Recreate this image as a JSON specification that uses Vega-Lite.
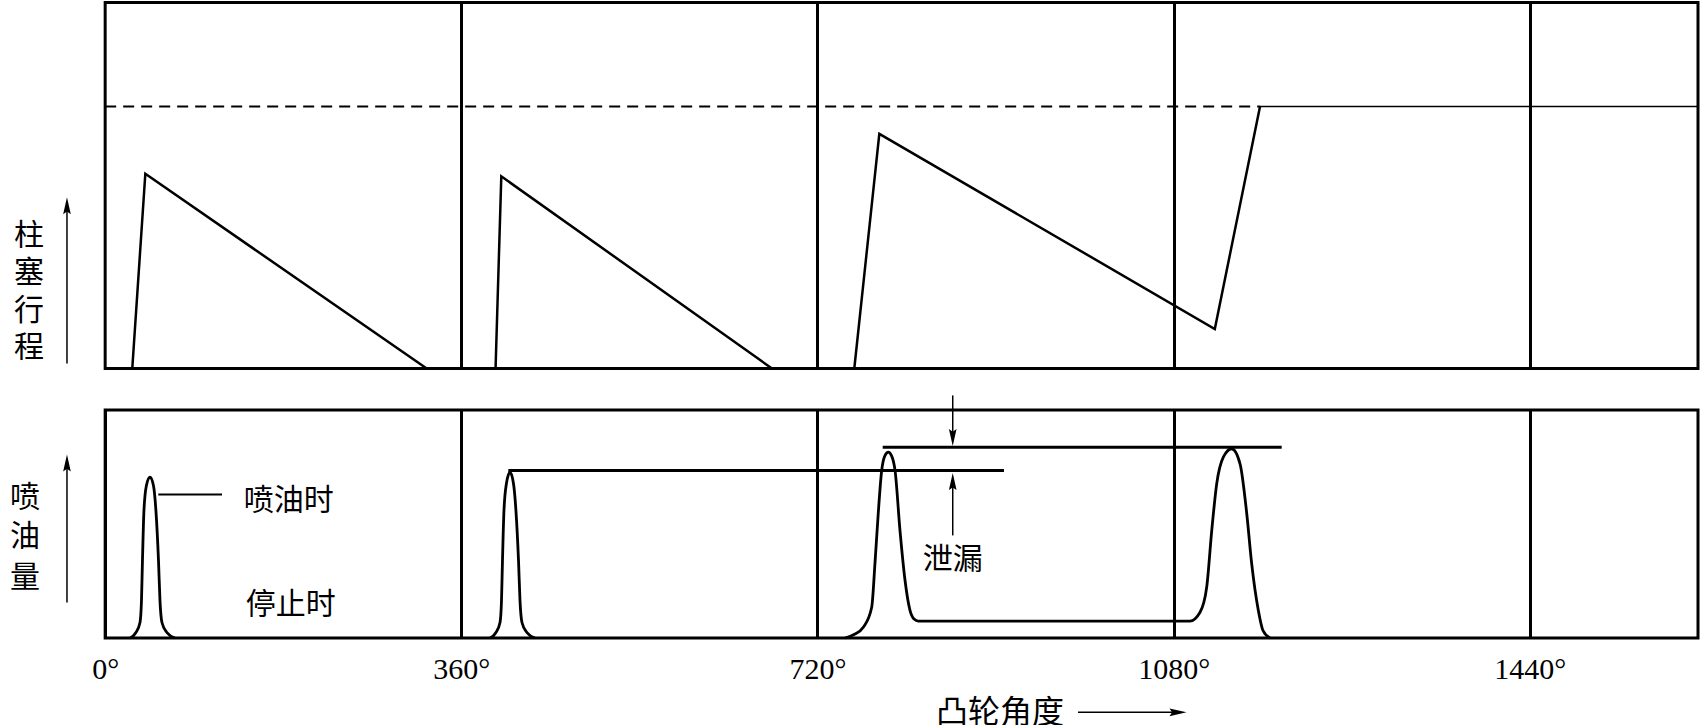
{
  "$schema": "https://vega.github.io/schema/vega-lite/v6.json",
  "background": "white",
  "padding": {"left": 0, "top": 0.5, "right": 0, "bottom": 0},
  "spacing": 41.5,
  "bounds": "flush",
  "config": {"view": {"stroke": null}, "font": "Noto Sans CJK SC"},
  "resolve": {"scale": {"x": "independent", "y": "independent"}},
  "datasets": {
    "frame": [{"deg": 0, "deg2": 1610, "v": 0, "v2": 100}],
    "topLines": [
      {"s": "t1", "deg": 27.4, "v": 0}, {"s": "t1", "deg": 40.6, "v": 53.2}, {"s": "t1", "deg": 325.0, "v": 0},
      {"s": "t2", "deg": 394.6, "v": 0}, {"s": "t2", "deg": 400.4, "v": 52.5}, {"s": "t2", "deg": 674.0, "v": 0},
      {"s": "t3", "deg": 757.2, "v": 0}, {"s": "t3", "deg": 782.5, "v": 64.1}, {"s": "t3", "deg": 1121.6, "v": 10.8}, {"s": "t3", "deg": 1167.3, "v": 71.6}
    ],
    "topSegs": [
      {"kind": "dashed", "deg": 0, "deg2": 1167.3, "v": 71.6, "v2": 71.6},
      {"kind": "solid", "deg": 1167.3, "deg2": 1610, "v": 71.6, "v2": 71.6},
      {"kind": "arrow", "deg": -38.6, "deg2": -38.6, "v": 1.4, "v2": 44.5}
    ],
    "topHeads": [{"dir": "up", "deg": -38.6, "v": 44.5}],
    "topText": [
      {"t": "柱", "deg": -77, "v": 36.3},
      {"t": "塞", "deg": -77, "v": 26.0},
      {"t": "行", "deg": -77, "v": 15.6},
      {"t": "程", "deg": -77, "v": 5.7}
    ],
    "flow": [
      {"s": "p1", "deg": 25.1, "v": 0}, {"s": "p1", "deg": 31.1, "v": 2.4}, {"s": "p1", "deg": 35.2, "v": 6.8}, {"s": "p1", "deg": 36.7, "v": 16.4}, {"s": "p1", "deg": 37.7, "v": 34}, {"s": "p1", "deg": 39.2, "v": 55.9}, {"s": "p1", "deg": 41.7, "v": 66.9}, {"s": "p1", "deg": 45.3, "v": 70.5}, {"s": "p1", "deg": 48.8, "v": 66.9}, {"s": "p1", "deg": 51.3, "v": 55.9}, {"s": "p1", "deg": 53.9, "v": 34}, {"s": "p1", "deg": 55.4, "v": 16.4}, {"s": "p1", "deg": 57.4, "v": 6.8}, {"s": "p1", "deg": 62.4, "v": 2.4}, {"s": "p1", "deg": 70.5, "v": 0},
      {"s": "p2", "deg": 389.0, "v": 0}, {"s": "p2", "deg": 395.0, "v": 2.4}, {"s": "p2", "deg": 399.1, "v": 6.8}, {"s": "p2", "deg": 400.6, "v": 16.4}, {"s": "p2", "deg": 401.6, "v": 34}, {"s": "p2", "deg": 403.1, "v": 55.9}, {"s": "p2", "deg": 405.6, "v": 67.8}, {"s": "p2", "deg": 409.2, "v": 72.7}, {"s": "p2", "deg": 412.7, "v": 67.8}, {"s": "p2", "deg": 415.2, "v": 55.9}, {"s": "p2", "deg": 417.8, "v": 34}, {"s": "p2", "deg": 419.3, "v": 16.4}, {"s": "p2", "deg": 421.3, "v": 6.8}, {"s": "p2", "deg": 426.3, "v": 2.4}, {"s": "p2", "deg": 434.4, "v": 0},
      {"s": "p3", "deg": 747.8, "v": 0}, {"s": "p3", "deg": 757.0, "v": 1.5}, {"s": "p3", "deg": 766.3, "v": 4.7}, {"s": "p3", "deg": 774.8, "v": 13.5}, {"s": "p3", "deg": 778.1, "v": 32.7}, {"s": "p3", "deg": 781.4, "v": 54.6}, {"s": "p3", "deg": 784.9, "v": 73.5}, {"s": "p3", "deg": 788.2, "v": 80}, {"s": "p3", "deg": 791.6, "v": 81.5}, {"s": "p3", "deg": 794.8, "v": 80}, {"s": "p3", "deg": 798.4, "v": 73.5}, {"s": "p3", "deg": 803.4, "v": 47.1}, {"s": "p3", "deg": 808.5, "v": 25.2}, {"s": "p3", "deg": 813.5, "v": 12.1}, {"s": "p3", "deg": 817.6, "v": 8.3}, {"s": "p3", "deg": 821.9, "v": 7.4},
      {"s": "p3", "deg": 1096.4, "v": 7.4}, {"s": "p3", "deg": 1106.7, "v": 11.3}, {"s": "p3", "deg": 1113.4, "v": 22.3}, {"s": "p3", "deg": 1118.5, "v": 47.1}, {"s": "p3", "deg": 1123.5, "v": 67.6}, {"s": "p3", "deg": 1130.2, "v": 79.3}, {"s": "p3", "deg": 1138.7, "v": 83}, {"s": "p3", "deg": 1147.1, "v": 76.4}, {"s": "p3", "deg": 1153.9, "v": 54.5}, {"s": "p3", "deg": 1158.9, "v": 32.5}, {"s": "p3", "deg": 1165.6, "v": 12.1}, {"s": "p3", "deg": 1170.3, "v": 3.3}, {"s": "p3", "deg": 1177.4, "v": 0}
    ],
    "bottomSegs": [
      {"kind": "leader", "deg": 53.7, "deg2": 118.1, "v": 62.9, "v2": 62.9},
      {"kind": "level", "deg": 407.5, "deg2": 908.5, "v": 73.5, "v2": 73.5},
      {"kind": "level", "deg": 785.9, "deg2": 1189.2, "v": 83.7, "v2": 83.7},
      {"kind": "arrow", "deg": 856.7, "deg2": 856.7, "v": 106.4, "v2": 87.9},
      {"kind": "arrow", "deg": 856.7, "deg2": 856.7, "v": 45, "v2": 68.6},
      {"kind": "arrow", "deg": -38.6, "deg2": -38.6, "v": 15.6, "v2": 76.8},
      {"kind": "arrow", "deg": 983.3, "deg2": 1084.4, "v": -32.6, "v2": -32.6}
    ],
    "bottomHeads": [
      {"dir": "down", "deg": 856.7, "v": 87.9},
      {"dir": "up", "deg": 856.7, "v": 68.6},
      {"dir": "up", "deg": -38.6, "v": 76.8},
      {"dir": "right", "deg": 1084.4, "v": -32.6}
    ],
    "bottomText": [
      {"t": "喷油时", "deg": 185.5, "v": 59.9},
      {"t": "停止时", "deg": 187.5, "v": 14.3},
      {"t": "泄漏", "deg": 856.7, "v": 34.2}
    ],
    "axisTitle": [{"t": "凸轮角度", "deg": 904.5, "v": -32.7}],
    "bottomSide": [
      {"t": "喷", "deg": -81, "v": 61.2},
      {"t": "油", "deg": -81, "v": 44.5},
      {"t": "量", "deg": -81, "v": 26.5}
    ]
  },
  "vconcat": [
    {
      "width": 1698,
      "height": 366,
      "layer": [
        {
          "data": {"name": "frame"},
          "mark": {"type": "rect", "fillOpacity": 0, "stroke": "black", "strokeWidth": 3},
          "encoding": {
            "x": {"field": "deg", "type": "quantitative", "scale": {"domain": [-106.3, 1610], "nice": false, "zero": false},
              "axis": {"values": [360, 720, 1080, 1440], "grid": true, "gridColor": "black", "gridWidth": 3, "gridOpacity": 1, "labels": false, "ticks": false, "domain": false, "title": null}},
            "x2": {"field": "deg2"},
            "y": {"field": "v", "type": "quantitative", "scale": {"domain": [0, 100], "nice": false, "zero": false}, "axis": null},
            "y2": {"field": "v2"}
          }
        },
        {
          "data": {"name": "topLines"},
          "mark": {"type": "line", "color": "black", "strokeWidth": 2.5},
          "encoding": {
            "x": {"field": "deg", "type": "quantitative"},
            "y": {"field": "v", "type": "quantitative"},
            "detail": {"field": "s"}
          }
        },
        {
          "data": {"name": "topSegs"},
          "transform": [{"filter": "datum.kind === 'dashed'"}],
          "mark": {"type": "rule", "color": "black", "strokeWidth": 2, "strokeDash": [11, 7]},
          "encoding": {"x": {"field": "deg", "type": "quantitative"}, "x2": {"field": "deg2"}, "y": {"field": "v", "type": "quantitative"}, "y2": {"field": "v2"}}
        },
        {
          "data": {"name": "topSegs"},
          "transform": [{"filter": "datum.kind === 'solid'"}],
          "mark": {"type": "rule", "color": "black", "strokeWidth": 1.5},
          "encoding": {"x": {"field": "deg", "type": "quantitative"}, "x2": {"field": "deg2"}, "y": {"field": "v", "type": "quantitative"}, "y2": {"field": "v2"}}
        },
        {
          "data": {"name": "topSegs"},
          "transform": [{"filter": "datum.kind === 'arrow'"}],
          "mark": {"type": "rule", "color": "black", "strokeWidth": 1.5},
          "encoding": {"x": {"field": "deg", "type": "quantitative"}, "x2": {"field": "deg2"}, "y": {"field": "v", "type": "quantitative"}, "y2": {"field": "v2"}}
        },
        {
          "data": {"name": "topHeads"},
          "mark": {"type": "point", "shape": "M0,-1L-0.45,1L0,0.7L0.45,1Z", "filled": true, "color": "black", "opacity": 1, "size": 289, "strokeWidth": 0},
          "encoding": {"x": {"field": "deg", "type": "quantitative"}, "y": {"field": "v", "type": "quantitative"}}
        },
        {
          "data": {"name": "topText"},
          "mark": {"type": "text", "font": "Noto Sans CJK SC", "fontSize": 30, "align": "center", "baseline": "middle", "color": "black"},
          "encoding": {"x": {"field": "deg", "type": "quantitative"}, "y": {"field": "v", "type": "quantitative"}, "text": {"field": "t"}}
        }
      ]
    },
    {
      "width": 1698,
      "height": 228,
      "layer": [
        {
          "data": {"name": "frame"},
          "mark": {"type": "rect", "fillOpacity": 0, "stroke": "black", "strokeWidth": 3},
          "encoding": {
            "x": {"field": "deg", "type": "quantitative", "scale": {"domain": [-106.3, 1610], "nice": false, "zero": false},
              "axis": {"values": [0, 360, 720, 1080, 1440], "grid": true, "gridColor": "black", "gridWidth": 3, "gridOpacity": 1, "ticks": false, "domain": false, "title": null,
                "labelFont": "Liberation Serif", "labelFontSize": 30, "labelColor": "black", "labelPadding": 16, "labelOverlap": false, "labelFlush": false, "labelExpr": "datum.value + '°'"}},
            "x2": {"field": "deg2"},
            "y": {"field": "v", "type": "quantitative", "scale": {"domain": [0, 100], "nice": false, "zero": false}, "axis": null},
            "y2": {"field": "v2"}
          }
        },
        {
          "data": {"name": "flow"},
          "mark": {"type": "line", "color": "black", "strokeWidth": 2.8, "interpolate": "monotone"},
          "encoding": {
            "x": {"field": "deg", "type": "quantitative"},
            "y": {"field": "v", "type": "quantitative"},
            "detail": {"field": "s"}
          }
        },
        {
          "data": {"name": "bottomSegs"},
          "transform": [{"filter": "datum.kind === 'leader'"}],
          "mark": {"type": "rule", "color": "black", "strokeWidth": 2},
          "encoding": {"x": {"field": "deg", "type": "quantitative"}, "x2": {"field": "deg2"}, "y": {"field": "v", "type": "quantitative"}, "y2": {"field": "v2"}}
        },
        {
          "data": {"name": "bottomSegs"},
          "transform": [{"filter": "datum.kind === 'level'"}],
          "mark": {"type": "rule", "color": "black", "strokeWidth": 3},
          "encoding": {"x": {"field": "deg", "type": "quantitative"}, "x2": {"field": "deg2"}, "y": {"field": "v", "type": "quantitative"}, "y2": {"field": "v2"}}
        },
        {
          "data": {"name": "bottomSegs"},
          "transform": [{"filter": "datum.kind === 'arrow'"}],
          "mark": {"type": "rule", "color": "black", "strokeWidth": 1.5},
          "encoding": {"x": {"field": "deg", "type": "quantitative"}, "x2": {"field": "deg2"}, "y": {"field": "v", "type": "quantitative"}, "y2": {"field": "v2"}}
        },
        {
          "data": {"name": "bottomHeads"},
          "transform": [{"filter": "datum.dir === 'up'"}],
          "mark": {"type": "point", "shape": "M0,-1L-0.45,1L0,0.7L0.45,1Z", "filled": true, "color": "black", "opacity": 1, "size": 289, "strokeWidth": 0},
          "encoding": {"x": {"field": "deg", "type": "quantitative"}, "y": {"field": "v", "type": "quantitative"}}
        },
        {
          "data": {"name": "bottomHeads"},
          "transform": [{"filter": "datum.dir === 'down'"}],
          "mark": {"type": "point", "shape": "M0,1L-0.45,-1L0,-0.7L0.45,-1Z", "filled": true, "color": "black", "opacity": 1, "size": 289, "strokeWidth": 0},
          "encoding": {"x": {"field": "deg", "type": "quantitative"}, "y": {"field": "v", "type": "quantitative"}}
        },
        {
          "data": {"name": "bottomHeads"},
          "transform": [{"filter": "datum.dir === 'right'"}],
          "mark": {"type": "point", "shape": "M1,0L-1,-0.45L-0.7,0L-1,0.45Z", "filled": true, "color": "black", "opacity": 1, "size": 289, "strokeWidth": 0},
          "encoding": {"x": {"field": "deg", "type": "quantitative"}, "y": {"field": "v", "type": "quantitative"}}
        },
        {
          "data": {"name": "bottomText"},
          "mark": {"type": "text", "font": "Noto Sans CJK SC", "fontSize": 30, "align": "center", "baseline": "middle", "color": "black"},
          "encoding": {"x": {"field": "deg", "type": "quantitative"}, "y": {"field": "v", "type": "quantitative"}, "text": {"field": "t"}}
        },
        {
          "data": {"name": "axisTitle"},
          "mark": {"type": "text", "font": "Noto Sans CJK SC", "fontSize": 32, "align": "center", "baseline": "middle", "color": "black"},
          "encoding": {"x": {"field": "deg", "type": "quantitative"}, "y": {"field": "v", "type": "quantitative"}, "text": {"field": "t"}}
        },
        {
          "data": {"name": "bottomSide"},
          "mark": {"type": "text", "font": "Noto Sans CJK SC", "fontSize": 30, "align": "center", "baseline": "middle", "color": "black"},
          "encoding": {"x": {"field": "deg", "type": "quantitative"}, "y": {"field": "v", "type": "quantitative"}, "text": {"field": "t"}}
        }
      ]
    }
  ]
}
